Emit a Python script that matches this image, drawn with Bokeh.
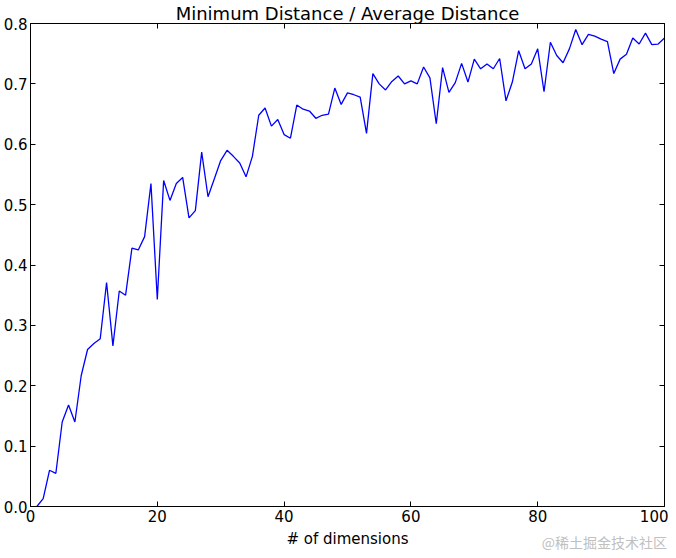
from bokeh.plotting import figure
from bokeh.models import LinearAxis, FixedTicker, Range1d, Div
from bokeh.layouts import column
from bokeh.embed import file_html
from bokeh.resources import INLINE

dims = list(range(1, 101))
ratio = [
    0.0, 0.013, 0.06, 0.055, 0.14, 0.168, 0.14, 0.217, 0.26, 0.27,
    0.278, 0.371, 0.266, 0.357, 0.35, 0.428, 0.425, 0.447, 0.535, 0.343,
    0.54, 0.507, 0.535, 0.545, 0.478, 0.49, 0.587, 0.513, 0.543, 0.573,
    0.59, 0.58, 0.569, 0.546, 0.58, 0.648, 0.66, 0.63, 0.641, 0.616,
    0.61, 0.665, 0.658, 0.655, 0.643, 0.648, 0.65, 0.693, 0.666, 0.685,
    0.682, 0.678, 0.618, 0.717, 0.7, 0.69, 0.704, 0.713, 0.7, 0.705,
    0.7, 0.728, 0.71, 0.634, 0.727, 0.686, 0.702, 0.734, 0.703, 0.741,
    0.725, 0.733, 0.725, 0.742, 0.672, 0.703, 0.755, 0.725, 0.733, 0.758,
    0.687, 0.769, 0.747, 0.735, 0.758, 0.79, 0.765, 0.782, 0.779, 0.774,
    0.77, 0.717, 0.741, 0.749, 0.776, 0.766, 0.784, 0.765, 0.766, 0.776,
]
x_ticks = [0, 20, 40, 60, 80, 100]
y_ticks = [0.0, 0.1, 0.2, 0.3, 0.4, 0.5, 0.6, 0.7, 0.8]
y_labels = {v: f"{v:.1f}" for v in y_ticks}
watermark = "@稀土掘金技术社区"

FONT = "DejaVu Sans"

p = figure(width=668, height=550, output_backend="svg", toolbar_location=None,
           x_range=Range1d(0, 100), y_range=Range1d(0, 0.8),
           title="Minimum Distance / Average Distance",
           min_border_left=5, min_border_right=4, min_border_top=2, min_border_bottom=0)
p.title.align = "center"
p.title.text_font = FONT
p.title.text_font_size = "18px"
p.title.text_font_style = "normal"
p.title.text_color = "black"
p.title.standoff = 0
p.title.offset = 0

p.line(dims, ratio, line_color="#0000ff", line_width=1.3)

p.xgrid.visible = False
p.ygrid.visible = False
p.outline_line_color = "black"
p.outline_line_width = 1

def style(ax):
    ax.major_tick_in = 5
    ax.major_tick_out = 0
    ax.minor_tick_in = 0
    ax.minor_tick_out = 0
    ax.axis_line_color = "black"
    ax.major_tick_line_color = "black"
    ax.major_label_text_font = FONT
    ax.major_label_text_font_size = "15px"
    ax.major_label_text_color = "black"
    ax.axis_label_text_font = FONT
    ax.axis_label_text_font_size = "15px"
    ax.axis_label_text_font_style = "normal"
    ax.axis_label_text_color = "black"

xa = p.xaxis[0]
xa.ticker = FixedTicker(ticks=x_ticks)
xa.axis_label = "# of dimensions"
xa.axis_label_standoff = 5
xa.major_label_standoff = 3
style(xa)

ya = p.yaxis[0]
ya.ticker = FixedTicker(ticks=y_ticks)
ya.major_label_overrides = y_labels
ya.major_label_standoff = 3
style(ya)

top = LinearAxis(ticker=FixedTicker(ticks=x_ticks),
                 major_label_overrides={t: "" for t in x_ticks})
style(top)
top.major_label_standoff = 0
p.add_layout(top, "above")
right = LinearAxis(ticker=FixedTicker(ticks=y_ticks),
                   major_label_overrides={t: "" for t in y_ticks})
style(right)
right.major_label_standoff = 0
p.add_layout(right, "right")

wm = Div(text=watermark, width=668, height=16,
         styles={"text-align": "right", "color": "#c0c0c0",
                 "font-family": "Noto Sans CJK SC", "font-size": "14px",
                 "margin-top": "-16px", "padding-right": "6px",
                 "box-sizing": "border-box", "line-height": "16px"})

page = column(p, wm, spacing=0)

open("out.html", "w").write(file_html(page, INLINE))
